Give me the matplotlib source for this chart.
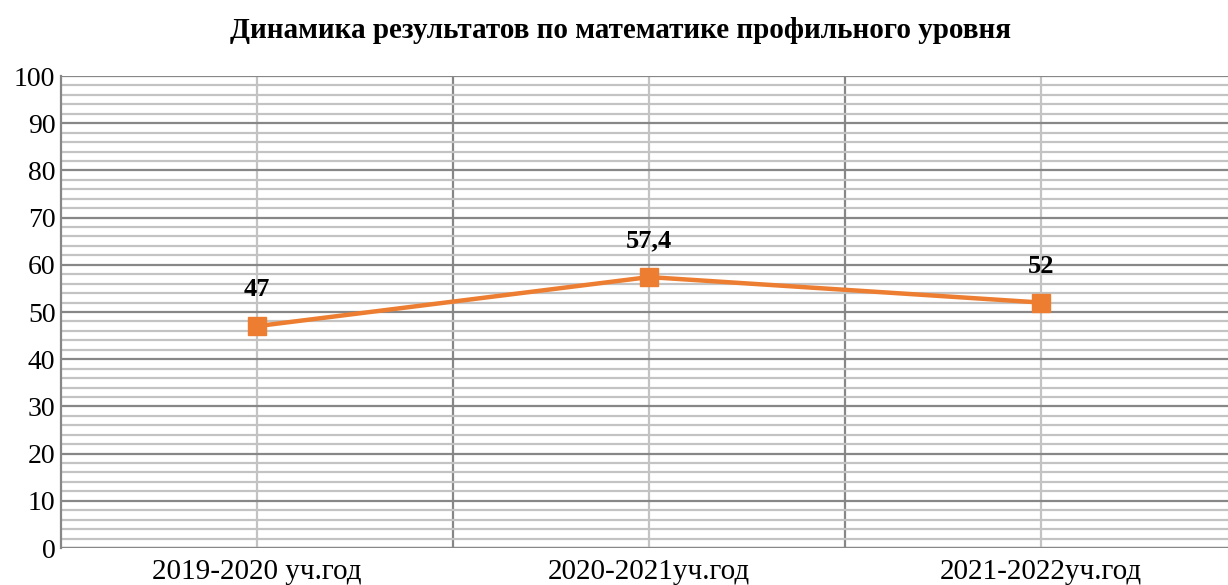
import matplotlib
matplotlib.use("Agg")
import matplotlib.pyplot as plt
from matplotlib.ticker import MultipleLocator, FixedLocator

categories = ["2019-2020 уч.год", "2020-2021уч.год", "2021-2022уч.год"]
values = [47, 57.4, 52]
value_labels = ["47", "57,4", "52"]

plt.rcParams['font.family'] = ['Liberation Serif', 'DejaVu Serif']

fig = plt.figure(figsize=(12.28, 5.85), dpi=100)
ax = fig.add_axes([61/1228, 37/585, 1176/1228, 472/585])

x = list(range(len(categories)))
ax.set_xlim(-0.5, len(categories) - 0.5)
ax.set_ylim(0, 100)

# gridlines
ax.yaxis.set_major_locator(MultipleLocator(10))
ax.yaxis.set_minor_locator(MultipleLocator(2))
ax.grid(which='minor', axis='y', color='#c3c3c3', linewidth=1.6, zorder=0)
ax.grid(which='major', axis='y', color='#878787', linewidth=1.6, zorder=0)
ax.xaxis.set_major_locator(FixedLocator(x))
ax.xaxis.set_minor_locator(FixedLocator([i + 0.5 for i in x]))
ax.grid(which='major', axis='x', color='#c3c3c3', linewidth=1.6, zorder=0)
ax.grid(which='minor', axis='x', color='#878787', linewidth=1.6, zorder=0)

ax.set_xticks(x)
ax.set_xticklabels(categories, fontsize=21)
ax.tick_params(axis='y', which='both', length=0, labelsize=20, pad=4)
ax.tick_params(axis='x', which='both', length=0, pad=8)

for s in ['top', 'right', 'bottom']:
    ax.spines[s].set_visible(False)
ax.spines['left'].set_color('#878787')
ax.spines['left'].set_linewidth(1.6)
ax.axhline(0, color='#878787', linewidth=1.6, zorder=1)

ax.plot(x, values, color='#ED7D31', linewidth=3.2, marker='s', markersize=13,
        markerfacecolor='#ED7D31', markeredgecolor='#ED7D31', zorder=3, clip_on=False)

for xi, v, lab in zip(x, values, value_labels):
    ax.annotate(lab, (xi, v), xytext=(0, 18), textcoords='offset points',
                ha='center', va='bottom', fontsize=19, fontweight='bold')

fig.text(620/1228, 1 - 31/585, "Динамика результатов по математике профильного уровня",
         ha='center', va='center', fontsize=21, fontweight='bold')

fig.savefig('out.png', dpi=100)
